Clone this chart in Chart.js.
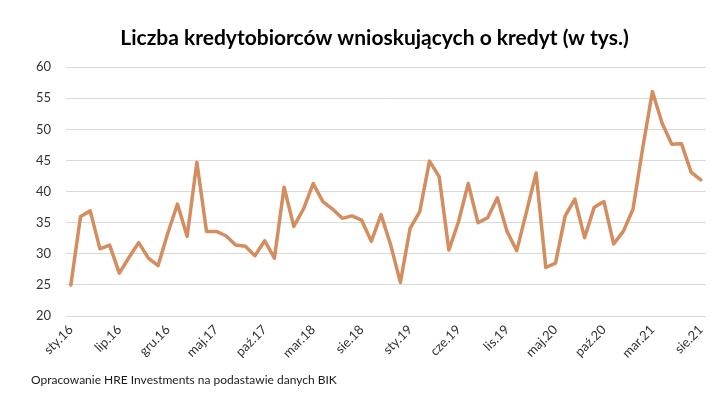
<!DOCTYPE html>
<html>
<head>
<meta charset="utf-8">
<script src="https://cdn.jsdelivr.net/npm/chart.js@4/dist/chart.umd.min.js"></script>
<style>
  html, body { margin: 0; padding: 0; background: #fff; }
  #wrap { position: relative; width: 718px; height: 394px; }
  #footer {
    position: absolute; left: 31px; top: 372px;
    font: 12px Lato, sans-serif; color: #1a1a1a; white-space: nowrap;
  }
</style>
</head>
<body>
<div id="wrap">
  <canvas id="chart" width="718" height="394"></canvas>
  <div id="footer">Opracowanie HRE Investments na podastawie danych BIK</div>
</div>
<script>
// ── Data ─────────────────────────────────────────────────────────
const months = [
  'sty.16', 'mar.16', 'kwi.16', 'maj.16', 'cze.16', 'lip.16', 'sie.16', 'wrz.16', 'paź.16', 'lis.16',
  'gru.16', 'sty.17', 'lut.17', 'mar.17', 'kwi.17', 'maj.17', 'cze.17', 'lip.17', 'sie.17', 'wrz.17',
  'paź.17', 'lis.17', 'gru.17', 'sty.18', 'lut.18', 'mar.18', 'kwi.18', 'maj.18', 'cze.18', 'lip.18',
  'sie.18', 'wrz.18', 'paź.18', 'lis.18', 'gru.18', 'sty.19', 'lut.19', 'mar.19', 'kwi.19', 'maj.19',
  'cze.19', 'lip.19', 'sie.19', 'wrz.19', 'paź.19', 'lis.19', 'gru.19', 'sty.20', 'lut.20', 'mar.20',
  'maj.20', 'cze.20', 'lip.20', 'sie.20', 'wrz.20', 'paź.20', 'lis.20', 'gru.20', 'sty.21', 'lut.21',
  'mar.21', 'kwi.21', 'maj.21', 'cze.21', 'lip.21', 'sie.21',
];

const borrowers = [
  25.0, 36.0, 36.9, 30.8, 31.4, 26.9, 29.4, 31.8, 29.3, 28.1,
  33.3, 38.0, 32.8, 44.7, 33.6, 33.6, 32.9, 31.4, 31.2, 29.7,
  32.1, 29.3, 40.7, 34.4, 37.2, 41.3, 38.4, 37.2, 35.7, 36.1,
  35.4, 32.0, 36.3, 31.4, 25.4, 34.1, 36.8, 44.9, 42.4, 30.6,
  35.2, 41.3, 35.0, 35.8, 39.0, 33.6, 30.5, 36.7, 43.0, 27.8,
  28.5, 36.1, 38.8, 32.6, 37.5, 38.4, 31.6, 33.6, 37.2, 47.0,
  56.1, 51.0, 47.6, 47.7, 43.1, 41.9,
];

const yMin = 20;
const yMax = 60;
const yStep = 5;
const labelEvery = 5;

const titleText = 'Liczba kredytobiorców wnioskujących o kredyt (w tys.)';

// ── Chart ────────────────────────────────────────────────────────
const tickColor = '#333333';
const gridColor = '#d9d9d9';

new Chart(document.getElementById('chart'), {
  type: 'line',
  data: {
    labels: months,
    datasets: [{
      label: 'Liczba kredytobiorców',
      data: borrowers,
      borderColor: '#d38d5f',
      borderWidth: 3.5,
      borderJoinStyle: 'round',
      borderCapStyle: 'round',
      pointRadius: 0,
      tension: 0,
      fill: false,
    }],
  },
  options: {
    responsive: false,
    animation: false,
    layout: { padding: { left: 31, right: 0, top: 0, bottom: 0 } },
    plugins: {
      legend: { display: false },
      tooltip: { enabled: false },
      title: {
        display: true,
        text: titleText,
        color: '#000',
        font: { family: 'Lato', size: 21, weight: 'bold' },
        padding: { top: 26, bottom: 16 },
      },
    },
    scales: {
      x: {
        offset: true,
        grid: { display: false, drawTicks: false },
        border: { display: false },
        ticks: {
          autoSkip: false,
          maxRotation: 45,
          minRotation: 45,
          padding: 6,
          color: tickColor,
          font: { family: 'Lato', size: 13 },
          callback: (v, i) => (i % labelEvery === 0 ? months[i] : ''),
        },
        afterFit: scale => { scale.height = 78; },
      },
      y: {
        min: yMin,
        max: yMax,
        grid: { color: gridColor, lineWidth: 1, drawTicks: false },
        border: { display: false },
        ticks: {
          stepSize: yStep,
          padding: 15,
          color: tickColor,
          font: { family: 'Lato', size: 13 },
        },
        afterFit: scale => { scale.width = 35; },
      },
      // empty right margin so the title stays centred on the whole canvas
      yRight: {
        position: 'right',
        grid: { display: false, drawTicks: false },
        border: { display: false },
        ticks: { display: false },
        afterFit: scale => { scale.width = 11; },
      },
    },
  },
});
</script>
</body>
</html>
